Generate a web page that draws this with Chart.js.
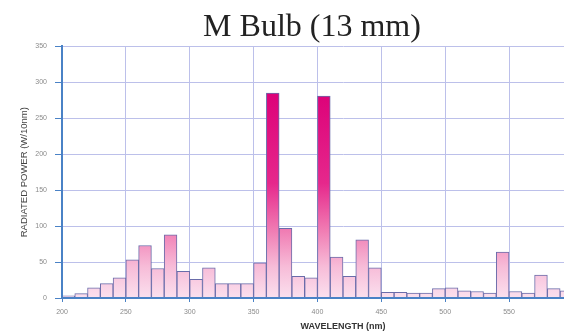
<!DOCTYPE html>
<html>
<head>
<meta charset="utf-8">
<script src="https://cdn.jsdelivr.net/npm/chart.js@4"></script>
<style>
  html, body { margin: 0; padding: 0; background: #fff; }
  #view { width: 564px; height: 336px; overflow: hidden; position: relative; }
  #wrap { width: 624px; height: 336px; position: absolute; left: 0; top: 0; }
</style>
</head>
<body>
<div id="view"><div id="wrap"><canvas id="spectrum"></canvas></div></div>
<script>
// 10 nm bins, centre wavelength of each bin
const wavelengths = [205, 215, 225, 235, 245, 255, 265, 275, 285, 295,
                     305, 315, 325, 335, 345, 355, 365, 375, 385, 395,
                     405, 415, 425, 435, 445, 455, 465, 475, 485, 495,
                     505, 515, 525, 535, 545, 555, 565, 575, 585, 595];
// radiated power per 10 nm bin
const power = [3, 6, 14, 20, 28, 53, 73, 41, 88, 37,
               26, 42, 20, 20, 20, 49, 285, 97, 30, 28,
               281, 57, 30, 81, 42, 8, 8, 7, 7, 13,
               14, 10, 9, 7, 64, 9, 7, 32, 13, 10];
const yTicks = [0, 50, 100, 150, 200, 250, 300, 350];
const xTicks = [200, 250, 300, 350, 400, 450, 500, 550, 600];

const axisBlue = '#4a82c6';
const gridLav = '#bcc0ea';
const tickGrey = '#8a8a8a';

// pink fill that deepens with height (gradient over the whole value range)
function barFill(context) {
  const chart = context.chart;
  if (!chart.chartArea) return '#f6c3dc';
  const ys = chart.scales.y;
  const g = chart.ctx.createLinearGradient(0, ys.getPixelForValue(0), 0, ys.getPixelForValue(290));
  g.addColorStop(0, '#fbe0ee');
  g.addColorStop(0.15, '#f7bcd8');
  g.addColorStop(0.33, '#f07ab2');
  g.addColorStop(0.55, '#e6288c');
  g.addColorStop(1, '#dc0078');
  return g;
}

new Chart(document.getElementById('spectrum'), {
  type: 'bar',
  data: {
    datasets: [{
      data: wavelengths.map((w, i) => ({ x: w, y: power[i] })),
      backgroundColor: barFill,
      borderColor: '#6a6caa',
      borderWidth: 1,
      barPercentage: 1,
      categoryPercentage: 1
    }]
  },
  options: {
    responsive: true,
    maintainAspectRatio: false,
    animation: false,
    plugins: {
      legend: { display: false },
      tooltip: { enabled: false },
      title: {
        display: true,
        text: 'M Bulb (13 mm)',
        color: '#222',
        font: { family: '"Liberation Serif", "Times New Roman", serif', size: 32, weight: 'normal' },
        padding: { top: 8, bottom: 0 }
      }
    },
    scales: {
      x: {
        type: 'linear',
        offset: false,
        min: 200,
        max: 640,
        afterBuildTicks: (scale) => { scale.ticks = xTicks.map(v => ({ value: v })); },
        afterFit: (scale) => { scale.height = 38; },
        ticks: {
          color: tickGrey,
          font: { family: '"Liberation Sans", Arial, sans-serif', size: 7 },
          padding: 6,
          maxRotation: 0
        },
        grid: { offset: false, color: gridLav, lineWidth: 1, tickLength: 4, tickColor: axisBlue },
        border: { color: axisBlue, width: 2, z: 1 },
        title: {
          display: true,
          text: 'WAVELENGTH (nm)',
          color: '#333',
          font: { family: '"Liberation Sans", Arial, sans-serif', size: 9, weight: 'bold' },
          padding: { top: 0, bottom: 4 }
        }
      },
      y: {
        min: 0,
        max: 350,
        afterBuildTicks: (scale) => { scale.ticks = yTicks.map(v => ({ value: v })); },
        afterFit: (scale) => { scale.width = 62; },
        ticks: {
          color: tickGrey,
          font: { family: '"Liberation Sans", Arial, sans-serif', size: 7 },
          padding: 8
        },
        grid: { color: gridLav, lineWidth: 1, tickLength: 7, tickColor: axisBlue },
        border: { color: axisBlue, width: 2, z: 1 },
        title: {
          display: true,
          text: 'RADIATED POWER (W/10nm)',
          color: '#444',
          font: { family: '"Liberation Sans", Arial, sans-serif', size: 9.5 },
          padding: { top: 19, bottom: 0 }
        }
      }
    }
  }
});
</script>
</body>
</html>
